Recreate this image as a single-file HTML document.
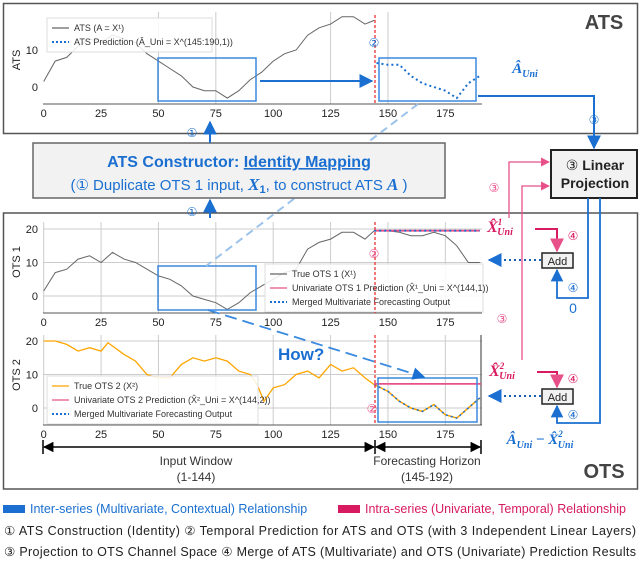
<!DOCTYPE html>
<html><head><meta charset="utf-8"><style>
html,body{margin:0;padding:0;background:#fff}
svg{display:block;font-family:"Liberation Sans",sans-serif}
.tk{font-size:11px;fill:#222;text-anchor:middle}
.yl{font-size:11px;fill:#222}
.lg{font-size:9px;fill:#333}
.ci{font-family:"DejaVu Sans",sans-serif}
.mi{font-family:"Liberation Serif",serif;font-style:italic;font-weight:bold}
</style></head><body>
<svg id="fig" width="640" height="562" viewBox="0 0 640 562">
<defs>
<marker id="ab" viewBox="0 0 10 10" refX="9" refY="5" markerWidth="7" markerHeight="7" orient="auto"><path d="M0,0L10,5L0,10z" fill="#1a6fd0"/></marker>
<marker id="ap" viewBox="0 0 10 10" refX="9" refY="5" markerWidth="7" markerHeight="7" orient="auto"><path d="M0,0L10,5L0,10z" fill="#e8508a"/></marker>
<marker id="ak" viewBox="0 0 10 10" refX="9" refY="5" markerWidth="7" markerHeight="7" orient="auto"><path d="M0,0L10,5L0,10z" fill="#000"/></marker>
<marker id="ak2" viewBox="0 0 10 10" refX="1" refY="5" markerWidth="7" markerHeight="7" orient="auto"><path d="M10,0L0,5L10,10z" fill="#000"/></marker>
</defs>
<rect x="3.5" y="3.5" width="634" height="130" fill="none" stroke="#555" stroke-width="1.5"/>
<rect x="3.5" y="213" width="634" height="276" fill="none" stroke="#555" stroke-width="1.5"/>
<text x="604" y="29" font-size="20" font-weight="bold" fill="#444" text-anchor="middle">ATS</text>
<text x="604" y="478" font-size="20" font-weight="bold" fill="#444" text-anchor="middle">OTS</text>
<g id="plots"></g>
<rect x="33" y="143" width="412" height="55" fill="#f2f2f2" stroke="#666" stroke-width="1.5"/>
<text x="239" y="167" font-size="16" font-weight="bold" fill="#1a6fd0" text-anchor="middle">ATS Constructor: <tspan text-decoration="underline">Identity Mapping</tspan></text>
<text x="239" y="190" font-size="15" fill="#1a6fd0" text-anchor="middle">(<tspan class="ci">①</tspan> Duplicate OTS 1 input, <tspan class="mi" font-size="17">X</tspan><tspan font-size="11" font-weight="bold" dy="3">1</tspan><tspan dy="-3">, to construct ATS </tspan><tspan class="mi" font-size="17">A</tspan> )</text>
<line x1="210" y1="143" x2="210" y2="122" stroke="#1a6fd0" stroke-width="2" marker-end="url(#ab)"/>
<line x1="210" y1="218" x2="210" y2="200" stroke="#1a6fd0" stroke-width="2" marker-end="url(#ab)"/>
<text x="192" y="137" font-size="12" fill="#1a6fd0" class="ci" text-anchor="middle">①</text>
<text x="192" y="216" font-size="12" fill="#1a6fd0" class="ci" text-anchor="middle">①</text>
<rect x="551" y="150" width="86" height="48" fill="#f2f2f2" stroke="#222" stroke-width="2"/>
<text x="595" y="170" font-size="14" font-weight="bold" fill="#222" text-anchor="middle"><tspan class="ci" font-weight="normal">③</tspan> Linear</text>
<text x="595" y="188" font-size="14" font-weight="bold" fill="#222" text-anchor="middle">Projection</text>
<polyline points="478,96 594,96 594,148" fill="none" stroke="#1a6fd0" stroke-width="2" marker-end="url(#ab)"/>
<text x="525" y="73" font-size="15" fill="#1a6fd0" class="mi" text-anchor="middle">Â<tspan font-size="10" dy="4">Uni</tspan></text>
<text x="594" y="124" font-size="12" fill="#1a6fd0" class="ci" text-anchor="middle">③</text>
<polyline points="509,218 509,162 549,162" fill="none" stroke="#e8508a" stroke-width="1.3" marker-end="url(#ap)"/>
<polyline points="522,360 522,186 549,186" fill="none" stroke="#e8508a" stroke-width="1.3" marker-end="url(#ap)"/>
<text x="494" y="192" font-size="12" fill="#e8508a" class="ci" text-anchor="middle">③</text>
<text x="502" y="323" font-size="12" fill="#e8508a" class="ci" text-anchor="middle">③</text>
<polyline points="588,198 588,298 557,298 557,270" fill="none" stroke="#1a6fd0" stroke-width="1.8" marker-end="url(#ab)"/>
<polyline points="600,198 600,423 557,423 557,406" fill="none" stroke="#1a6fd0" stroke-width="1.8" marker-end="url(#ab)"/>
<text x="500" y="232" font-size="16" fill="#d81b60" class="mi" text-anchor="middle">X̂<tspan font-size="9" dy="-7">1</tspan><tspan font-size="10" dx="-5" dy="10">Uni</tspan></text>
<text x="502" y="376" font-size="16" fill="#d81b60" class="mi" text-anchor="middle">X̂<tspan font-size="9" dy="-7">2</tspan><tspan font-size="10" dx="-5" dy="10">Uni</tspan></text>
<polyline points="535,229 557,229 557,251" fill="none" stroke="#d81b60" stroke-width="2" marker-end="url(#ap)"/>
<polyline points="537,372 557,372 557,387" fill="none" stroke="#d81b60" stroke-width="2" marker-end="url(#ap)"/>
<text x="573" y="240" font-size="12" fill="#d81b60" class="ci" text-anchor="middle">④</text>
<text x="573" y="383" font-size="12" fill="#d81b60" class="ci" text-anchor="middle">④</text>
<text x="573" y="292" font-size="12" fill="#1a6fd0" class="ci" text-anchor="middle">④</text>
<text x="573" y="419" font-size="12" fill="#1a6fd0" class="ci" text-anchor="middle">④</text>
<text x="573" y="313" font-size="14" fill="#1a6fd0" text-anchor="middle">0</text>
<text x="540" y="444" font-size="15" fill="#1a6fd0" class="mi" text-anchor="middle">Â<tspan font-size="10" dy="4">Uni</tspan><tspan dy="-4" font-style="normal"> − </tspan>X̂<tspan font-size="9" dy="-7">2</tspan><tspan font-size="10" dx="-5" dy="11">Uni</tspan></text>
<rect x="542" y="253" width="31" height="15" fill="#f2f2f2" stroke="#222" stroke-width="1.5"/>
<text x="557.5" y="265" font-size="11" text-anchor="middle" fill="#222">Add</text>
<rect x="542" y="389" width="31" height="15" fill="#f2f2f2" stroke="#222" stroke-width="1.5"/>
<text x="557.5" y="401" font-size="11" text-anchor="middle" fill="#222">Add</text>
<line x1="541" y1="260" x2="489" y2="260" stroke="#1a5fb0" stroke-width="2" stroke-dasharray="2,3" marker-end="url(#ab)"/>
<line x1="541" y1="396" x2="489" y2="396" stroke="#1a5fb0" stroke-width="2" stroke-dasharray="2,3" marker-end="url(#ab)"/>
<line x1="44" y1="447" x2="374" y2="447" stroke="#000" stroke-width="1.5" marker-start="url(#ak2)" marker-end="url(#ak)"/>
<line x1="376" y1="447" x2="480" y2="447" stroke="#000" stroke-width="1.5" marker-start="url(#ak2)" marker-end="url(#ak)"/>
<line x1="43" y1="440" x2="43" y2="454" stroke="#000" stroke-width="1.5"/>
<line x1="375" y1="440" x2="375" y2="454" stroke="#000" stroke-width="1.5"/>
<line x1="481" y1="440" x2="481" y2="454" stroke="#000" stroke-width="1.5"/>
<text x="196" y="465" font-size="12" fill="#333" text-anchor="middle">Input Window</text>
<text x="196" y="481" font-size="12" fill="#333" text-anchor="middle">(1-144)</text>
<text x="427" y="465" font-size="12" fill="#333" text-anchor="middle">Forecasting Horizon</text>
<text x="427" y="481" font-size="12" fill="#333" text-anchor="middle">(145-192)</text>
<rect x="3" y="505" width="22" height="8" fill="#1a6fd0"/>
<text x="30" y="513" font-size="12.5" fill="#1a6fd0">Inter-series (Multivariate, Contextual) Relationship</text>
<rect x="338" y="505" width="22" height="8" fill="#d81b60"/>
<text x="365" y="513" font-size="12.5" fill="#d81b60">Intra-series (Univariate, Temporal) Relationship</text>
<text x="4" y="535" font-size="12.5" fill="#222" textLength="632"><tspan class="ci">①</tspan> ATS Construction (Identity)    <tspan class="ci">②</tspan> Temporal Prediction for ATS and OTS (with 3 Independent Linear Layers)</text>
<text x="4" y="556" font-size="12.5" fill="#222" textLength="632"><tspan class="ci">③</tspan> Projection to OTS Channel Space <tspan class="ci">④</tspan> Merge of ATS (Multivariate) and OTS (Univariate) Prediction Results</text>
<text x="278" y="360" font-size="17" font-weight="bold" fill="#1a6fd0">How?</text>
</svg>
<script>
const xTicks=[0,25,50,75,100,125,150,175];
const inX=[0,5,10,15,20,25,30,35,40,45,50,55,60,65,70,75,80,85,90,95,100,105,110,115,120,125,130,135,140,144];
const ots1In=[1.5,7,8,11,12,10,13,11,10,8,6,5,3,0,-1,-2,-4,-2,1,3,5,7,8,14,16,17,19,19,17,19.5];
const ots1FcX=[144,150,155,160,165,170,175,180,185,190];
const ots1Fc=[19.5,19.5,19,18,18,19,18,15,10,10];
const ots1Uni=19.5;
const atsIn=[1.5,7,8,11,13,12,14,13,12,9,7,5,3,0,-1,-1,-3,-1,2,4,7,9,10,14,16,17,19,19,17,18];
const atsPredX=[145,150,155,160,165,170,175,180,185,190];
const atsPred=[6.5,6,6,3,1,0,-1,-3,1,3];
const ots2X=[0,5,10,15,20,25,28,35,40,45,50,55,60,65,70,75,80,85,90,93,96,100,105,110,115,120,125,130,135,140,144];
const ots2In=[20,20,19,17,18,17,19.5,16,14,10,9,9,13,15,14,15,14,11,10,7,2,6,7,10,11,9,13,11,12,9,7];
const ots2Fc=[7,5,2,0,-1,1,-2,-3,0,3];
const ots2Uni=7.2;
const NS="http://www.w3.org/2000/svg";
const g=document.getElementById('plots');
const xs=v=>43.7+v*2.295;
const yA=v=>87-v*3.7, y1=v=>296-v*3.35, y2=v=>408-v*3.35;
function el(t,a,p){const e=document.createElementNS(NS,t);for(const k in a)e.setAttribute(k,a[k]);(p||g).appendChild(e);return e;}
function path(xv,yv,yf){return xv.map((x,i)=>(i?'L':'M')+xs(x).toFixed(1)+','+yf(yv[i]).toFixed(1)).join('');}
function axes(yf,yt,yLabel,axisY,top,grids,yMid){
  for(const t of grids){const l=el('line',{x1:xs(t),x2:xs(t),y1:top,y2:axisY,stroke:'#ccc','stroke-width':1});
  
  }
  for(const t of yt){const l=el('line',{x1:43,x2:482,y1:yf(t),y2:yf(t),stroke:'#ccc','stroke-width':1});
  
  
  const tx=el('text',{x:38,y:yf(t)+4,'text-anchor':'end',class:'yl'});tx.textContent=t;
  
  }
  const ax=el('line',{x1:43,x2:482,y1:axisY,y2:axisY,stroke:'#555','stroke-width':1});
  
  
  for(const t of xTicks){const tx=el('text',{x:xs(t),y:axisY+13,class:'tk'});tx.textContent=t;
  
  }
  const yl=el('text',{x:20,y:yMid,class:'yl','text-anchor':'middle',transform:`rotate(-90 20 ${yMid})`});yl.textContent=yLabel;
  
  
}
function legend(x,y,w,items){
  const r=el('rect',{x:x,y:y,width:w,height:items.length*14+6,fill:'#fff','fill-opacity':0.85,stroke:'#ddd'});
  
  
  items.forEach((it,i)=>{const yy=y+10+i*14;
    const l=el('line',{x1:x+5,x2:x+22,y1:yy,y2:yy,stroke:it[1],'stroke-width':it[2]?2:1.3,'stroke-dasharray':it[2]?'2,2':''});
    
    
    const t=el('text',{x:x+27,y:yy+3,class:'lg'});t.textContent=it[0];
    
    });
}
axes(yA,[],'ATS',104,12,[50,75,125,150],60);
[[10,'10'],[0,'0']].forEach(d=>{const t=el('text',{x:38,y:yA(d[0])+4,'text-anchor':'end',class:'yl'});t.textContent=d[1];

});
let p=el('path',{d:path(inX,atsIn,yA),fill:'none',stroke:'#666','stroke-width':1});


p=el('path',{d:path(atsPredX,atsPred,yA),fill:'none',stroke:'#1a6fd0','stroke-width':2,'stroke-dasharray':'2,3'});


legend(47,18,165,[['ATS (A = X¹)','#666',0],['ATS Prediction (Â_Uni = X^(145:190,1))','#1a6fd0',1]]);
axes(y1,[0,10,20],'OTS 1',313,222,xTicks,262);
p=el('path',{d:path(inX,ots1In,y1),fill:'none',stroke:'#666','stroke-width':1});


p=el('path',{d:path(ots1FcX,ots1Fc,y1),fill:'none',stroke:'#666','stroke-width':1});


p=el('line',{x1:xs(144),x2:xs(190),y1:y1(ots1Uni),y2:y1(ots1Uni),stroke:'#e8508a','stroke-width':1.8});


p=el('line',{x1:xs(144),x2:xs(190),y1:y1(ots1Uni),y2:y1(ots1Uni),stroke:'#1a6fd0','stroke-width':1.8,'stroke-dasharray':'2,3'});


legend(265,264,218,[['True OTS 1 (X¹)','#666',0],['Univariate OTS 1 Prediction (X̂¹_Uni = X^(144,1))','#e8508a',0],['Merged Multivariate Forecasting Output','#1a6fd0',1]]);
axes(y2,[0,10,20],'OTS 2',425,335,xTicks,375);
p=el('line',{x1:481,x2:481,y1:335,y2:425,stroke:'#333','stroke-width':1});


p=el('path',{d:path(ots2X,ots2In,y2),fill:'none',stroke:'#ffa500','stroke-width':1.3});


p=el('path',{d:path(ots1FcX,ots2Fc,y2),fill:'none',stroke:'#ffa500','stroke-width':1.5});


p=el('path',{d:path(ots1FcX,ots2Fc,y2),fill:'none',stroke:'#1a6fd0','stroke-width':1.5,'stroke-dasharray':'2,3'});


p=el('line',{x1:xs(144),x2:481,y1:y2(ots2Uni),y2:y2(ots2Uni),stroke:'#e8508a','stroke-width':1.8});


legend(47,376,211,[['True OTS 2 (X²)','#ffa500',0],['Univariate OTS 2 Prediction (X̂²_Uni = X^(144,2))','#e8508a',0],['Merged Multivariate Forecasting Output','#1a6fd0',1]]);
[[15,104],[222,313],[335,425]].forEach(r=>{const l=el('line',{x1:375,x2:375,y1:r[0],y2:r[1],stroke:'#e33','stroke-width':1.3,'stroke-dasharray':'3,2'});

});
[[374,47],[374,258],[372,413]].forEach(c=>{const t=el('text',{x:c[0],y:c[1],'font-size':12,fill:c[1]<100?'#1a6fd0':'#e8508a','text-anchor':'middle',class:'ci'});t.textContent='②';

});
[[158,58,98,43],[379,58,97,43],[158,266,98,44],[378,378,99,44]].forEach(b=>{const r=el('rect',{x:b[0],y:b[1],width:b[2],height:b[3],fill:'none',stroke:'#3a8ae0','stroke-width':1.5});

});
p=el('line',{x1:260,y1:81,x2:372,y2:81,stroke:'#1a6fd0','stroke-width':2,'marker-end':'url(#ab)'});


p=el('line',{x1:418,y1:104,x2:206,y2:266,stroke:'#9cc3ea','stroke-width':2,'stroke-dasharray':'8,5'});


p=el('line',{x1:208,y1:310,x2:424,y2:377,stroke:'#3a8ae0','stroke-width':1.8,'stroke-dasharray':'12,6','marker-end':'url(#ab)'});


</script>
</body></html>
